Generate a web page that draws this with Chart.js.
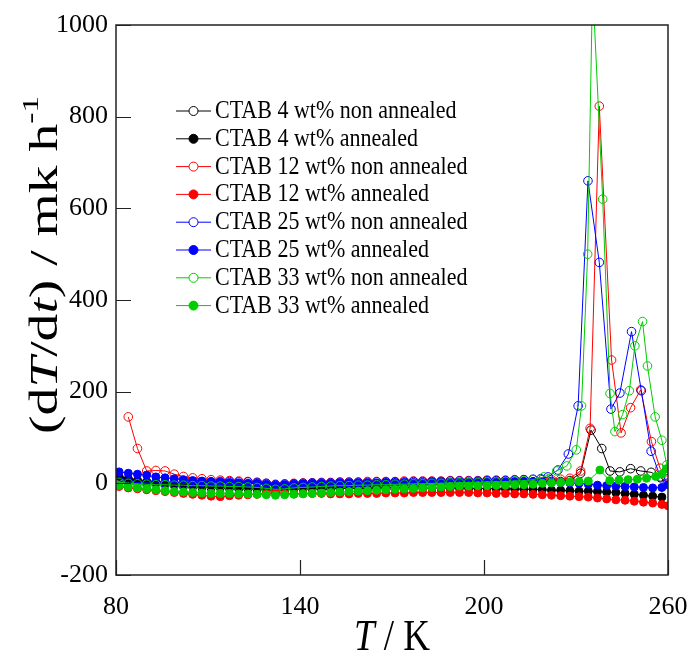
<!DOCTYPE html>
<html>
<head>
<meta charset="utf-8">
<script src="https://cdn.jsdelivr.net/npm/chart.js@4"></script>
<style>
  html, body { margin: 0; padding: 0; background: #fff; }
  #wrap { width: 692px; height: 663px; }
</style>
</head>
<body>
<div id="wrap"><canvas id="chart"></canvas></div>
<script>
// Temperature grid (K) for the flat part of every run
const tBase = [81,84,87,90,93,96,99,102,105,108,111,114,117,120,123,126,129,132,135,138,141,144,147,150,153,156,159,162,165,168,171,174,177,180,183,186,189,192,195,198,201,204,207,210,213,216];

// CTAB 4 wt%
const blackOpenLow = [12,8,5,3,2,0,-2,-3,-4,-5,-5,-6,-6,-7,-8,-10,-13,-15,-12,-9,-8,-7,-7,-6,-6,-5,-5,-4,-4,-3,-3,-2,-2,-2,-1,-1,0,0,1,1,1,2,2,2,3,3];
const blackOpenPeakT = [219,222,225,228,231.5,234.9,238.4,241.1,244.3,247.8,251.1,254.5,257.5,259.5];
const blackOpenPeak = [3,4,4,6,22,116,76,27,25,32,27,24,14,28];
const blackFilledLow = [15,10,6,3,0,-3,-5,-7,-8,-9,-10,-10,-11,-12,-12,-13,-14,-15,-14,-13,-13,-12,-12,-12,-11,-11,-11,-11,-10,-10,-10,-10,-10,-10,-10,-10,-10,-10,-11,-11,-11,-12,-12,-12,-13,-13];
const blackFilledPeakT = [219,222,225,228,231,234,237,240,243,246,249,252,255,258];
const blackFilledPeak = [-14,-15,-15,-16,-17,-17,-18,-19,-20,-22,-24,-26,-28,-30];

// CTAB 12 wt%
const redOpenLow = [null,145,76,27,28,27,20,15,12,10,8,7,6,5,4,2,0,-2,-1,0,1,1,2,2,3,3,3,4,4,4,4,5,5,5,5,5,6,6,6,6,7,7,7,8,8,8];
const redOpenPeakT = [219,222,225,228,231.5,234.6,237.6,241.6,244.7,247.8,251.1,254.6,257.4,259.5];
const redOpenPeak = [8,8,9,11,27,120,823,269,110,165,204,91,33,15];
const redFilledLow = [-7,-10,-12,-14,-16,-18,-20,-22,-24,-26,-28,-29,-27,-26,-25,-24,-22,-21,-22,-23,-22,-22,-22,-23,-23,-23,-22,-22,-22,-21,-21,-21,-20,-20,-20,-20,-20,-20,-20,-21,-21,-22,-22,-23,-23,-24];
const redFilledPeakT = [219,222,225,228,231,234,237,240,243,246,249,252,255,258,260];
const redFilledPeak = [-25,-26,-27,-28,-29,-30,-32,-34,-36,-37,-39,-41,-43,-46,-49];

// CTAB 25 wt%
const blueOpenLow = [5,3,2,1,1,0,0,0,1,2,3,4,4,3,3,2,0,-3,-2,-1,0,1,1,1,2,2,2,2,3,3,3,3,4,4,4,4,5,5,5,5,6,6,6,7,8,9];
const blueOpenPeakT = [218.5,220.9,224.1,227.5,230.7,233.9,237.6,241.4,244.3,248.1,251.3,254.5,257.6,259.8];
const blueOpenPeak = [10,14,29,64,169,660,482,162,197,331,202,70,12,0];
const blueFilledLow = [25,22,20,18,14,12,10,8,6,5,4,3,2,1,0,0,-2,-4,-3,-2,-1,0,0,0,1,1,1,1,1,2,2,2,2,2,3,3,3,3,3,4,4,4,4,4,4,4];
const blueFilledPeakT = [219,222,225,228,231,234,237,240,243,246,249,252,255,258,260];
const blueFilledPeak = [3,2,2,1,0,-2,-4,-5,-6,-7,-8,-9,-10,-9,-3];

// CTAB 33 wt%
const greenOpenLow = [2,0,-1,-2,-3,-3,-4,-4,-5,-5,-6,-6,-7,-7,-8,-9,-11,-13,-12,-10,-9,-8,-7,-6,-5,-5,-4,-4,-3,-3,-2,-2,-1,-1,0,0,1,1,2,2,3,3,4,5,6,8];
const greenOpenPeakT = [219.5,223.7,227.0,230.1,231.8,233.8,235.4,238.7,241.1,242.7,245.2,247.4,249.2,251.7,253.3,255.8,258.0,259.6];
const greenOpenPeak = [14,27,38,73,169,500,1090,620,196,113,150,202,300,353,256,145,94,40];
const greenFilledLow = [-5,-8,-10,-12,-14,-16,-18,-19,-20,-21,-22,-22,-22,-23,-23,-24,-25,-26,-25,-24,-23,-22,-21,-20,-19,-18,-17,-16,-15,-14,-13,-12,-11,-10,-9,-8,-7,-6,-6,-5,-5,-4,-4,-3,-3,-2];
const greenFilledPeakT = [219,222,225,228,231,234,237.8,241,244,247,250,253,256,258,259.5];
const greenFilledPeak = [0,1,2,3,4,5,29,6,7,8,9,11,15,20,32];

const xTicks = [80, 140, 200, 260];
const yTicks = [-200, 0, 200, 400, 600, 800, 1000];

const seriesLabels = [
    'CTAB 4 wt% non annealed', 'CTAB 4 wt% annealed',
    'CTAB 12 wt% non annealed', 'CTAB 12 wt% annealed',
    'CTAB 25 wt% non annealed', 'CTAB 25 wt% annealed',
    'CTAB 33 wt% non annealed', 'CTAB 33 wt% annealed'
];

const BLACK = '#000000', RED = '#ff0000', BLUE = '#0000ff', GREEN = '#00cc00';
const SERIF = '"Liberation Serif", "DejaVu Serif", serif';

// Helper: join the flat part and the peak part into {x, y} points
function pts(lowVals, peakT, peakVals) {
    const t = tBase.concat(peakT);
    const v = lowVals.concat(peakVals);
    return t.map((x, i) => ({ x: x, y: v[i] }));
}

function makeSet(i, color, open, data) {
    return {
        label: seriesLabels[i],
        data: data,
        borderColor: color,
        backgroundColor: color,
        borderWidth: 1,
        pointRadius: open ? 4.3 : 4,
        pointBorderWidth: 1,
        pointBorderColor: color,
        pointBackgroundColor: open ? 'rgba(255,255,255,0)' : color,
        pointStyle: 'circle',
        fill: false,
        tension: 0,
        order: 7 - i,
        _open: open
    };
}

const datasets = [
    makeSet(0, BLACK, true, pts(blackOpenLow, blackOpenPeakT, blackOpenPeak)),
    makeSet(1, BLACK, false, pts(blackFilledLow, blackFilledPeakT, blackFilledPeak)),
    makeSet(2, RED, true, pts(redOpenLow, redOpenPeakT, redOpenPeak)),
    makeSet(3, RED, false, pts(redFilledLow, redFilledPeakT, redFilledPeak)),
    makeSet(4, BLUE, true, pts(blueOpenLow, blueOpenPeakT, blueOpenPeak)),
    makeSet(5, BLUE, false, pts(blueFilledLow, blueFilledPeakT, blueFilledPeak)),
    makeSet(6, GREEN, true, pts(greenOpenLow, greenOpenPeakT, greenOpenPeak)),
    makeSet(7, GREEN, false, pts(greenFilledLow, greenFilledPeakT, greenFilledPeak))
];

// draws text runs with mixed fonts; baseline at y=0, centred on x=0
function drawRich(ctx, runs) {
    let total = 0;
    runs.forEach(r => { ctx.font = r.f; r.w = ctx.measureText(r.t).width; total += r.w; });
    let x = -total / 2;
    ctx.textAlign = 'left';
    ctx.textBaseline = 'alphabetic';
    runs.forEach(r => {
        ctx.font = r.f;
        ctx.fillText(r.t, x, r.dy || 0);
        x += r.w;
    });
    return total;
}

function richWidth(ctx, runs) {
    let total = 0;
    runs.forEach(r => { ctx.font = r.f; total += ctx.measureText(r.t).width; });
    return total;
}

// Frame, inward ticks, axis titles and legend
const decorPlugin = {
    id: 'decor',
    afterDraw(chart) {
        const ctx = chart.ctx;
        const a = chart.chartArea;
        const xs = chart.scales.x, ys = chart.scales.y;
        ctx.save();

        // frame
        ctx.strokeStyle = '#222';
        ctx.lineWidth = 1.5;
        ctx.strokeRect(a.left, a.top, a.right - a.left, a.bottom - a.top);

        // inward ticks
        ctx.lineWidth = 1.2;
        ctx.beginPath();
        yTicks.forEach(v => {
            const py = Math.round(ys.getPixelForValue(v)) + 0.5;
            ctx.moveTo(a.left, py);
            ctx.lineTo(a.left + 15, py);
        });
        xTicks.forEach(v => {
            const px = Math.round(xs.getPixelForValue(v)) + 0.5;
            ctx.moveTo(px, a.bottom);
            ctx.lineTo(px, a.bottom - 15);
        });
        ctx.stroke();

        // x title: T / K
        ctx.fillStyle = '#000';
        ctx.save();
        ctx.translate(392, 650);
        ctx.scale(1, 1.2);
        drawRich(ctx, [
            { t: 'T', f: 'italic 37px ' + SERIF },
            { t: ' / K', f: '37px ' + SERIF }
        ]);
        ctx.restore();

        // y title: (dT/dt) / mk h^-1
        const yRuns = [
            { t: '(d', f: '40px ' + SERIF },
            { t: 'T', f: 'italic 40px ' + SERIF },
            { t: '/d', f: '40px ' + SERIF },
            { t: 't', f: 'italic 40px ' + SERIF },
            { t: ') / mk h', f: '40px ' + SERIF },
            { t: '-1', f: '24px ' + SERIF, dy: -19 }
        ];
        const natural = richWidth(ctx, yRuns);
        ctx.save();
        ctx.translate(57, 265);
        ctx.rotate(-Math.PI / 2);
        ctx.scale(338 / natural, 1);
        drawRich(ctx, yRuns);
        ctx.restore();

        // legend
        const lx = 176, ly = 111, step = 27.8;
        chart.data.datasets.forEach((ds, i) => {
            const y = ly + i * step;
            ctx.strokeStyle = ds.borderColor;
            ctx.lineWidth = 1;
            ctx.beginPath();
            ctx.moveTo(lx, y);
            ctx.lineTo(lx + 35, y);
            ctx.stroke();
            ctx.beginPath();
            ctx.arc(lx + 17.5, y, 4.5, 0, Math.PI * 2);
            ctx.fillStyle = ds._open ? '#fff' : ds.borderColor;
            ctx.fill();
            ctx.stroke();
            ctx.save();
            ctx.translate(lx + 39, y + 7);
            ctx.scale(1, 1.15);
            ctx.fillStyle = '#000';
            ctx.font = '22px ' + SERIF;
            ctx.textAlign = 'left';
            ctx.textBaseline = 'alphabetic';
            ctx.fillText(ds.label, 0, 0);
            ctx.restore();
        });
        ctx.restore();
    }
};

new Chart(document.getElementById('chart').getContext('2d'), {
    type: 'line',
    data: { datasets: datasets },
    options: {
        responsive: true,
        maintainAspectRatio: false,
        animation: false,
        layout: { padding: { top: 25, right: 24, left: 0, bottom: 0 } },
        plugins: {
            legend: { display: false },
            tooltip: { enabled: false }
        },
        scales: {
            x: {
                type: 'linear',
                min: 80,
                max: 260,
                afterFit: s => { s.height = 88; s.paddingLeft = 0; s.paddingRight = 0; },
                afterBuildTicks: s => { s.ticks = xTicks.map(v => ({ value: v })); },
                grid: { display: false, drawTicks: false },
                border: { display: false },
                ticks: {
                    color: '#000', font: { family: SERIF, size: 26 }, padding: 17, maxRotation: 0,
                    callback: v => String(v)
                }
            },
            y: {
                type: 'linear',
                min: -200,
                max: 1000,
                afterFit: s => { s.width = 116; s.paddingTop = 0; s.paddingBottom = 0; },
                afterBuildTicks: s => { s.ticks = yTicks.map(v => ({ value: v })); },
                grid: { display: false, drawTicks: false },
                border: { display: false },
                ticks: {
                    color: '#000', font: { family: SERIF, size: 26 }, padding: 8,
                    callback: v => String(v)
                }
            }
        }
    },
    plugins: [decorPlugin]
});
</script>
</body>
</html>
